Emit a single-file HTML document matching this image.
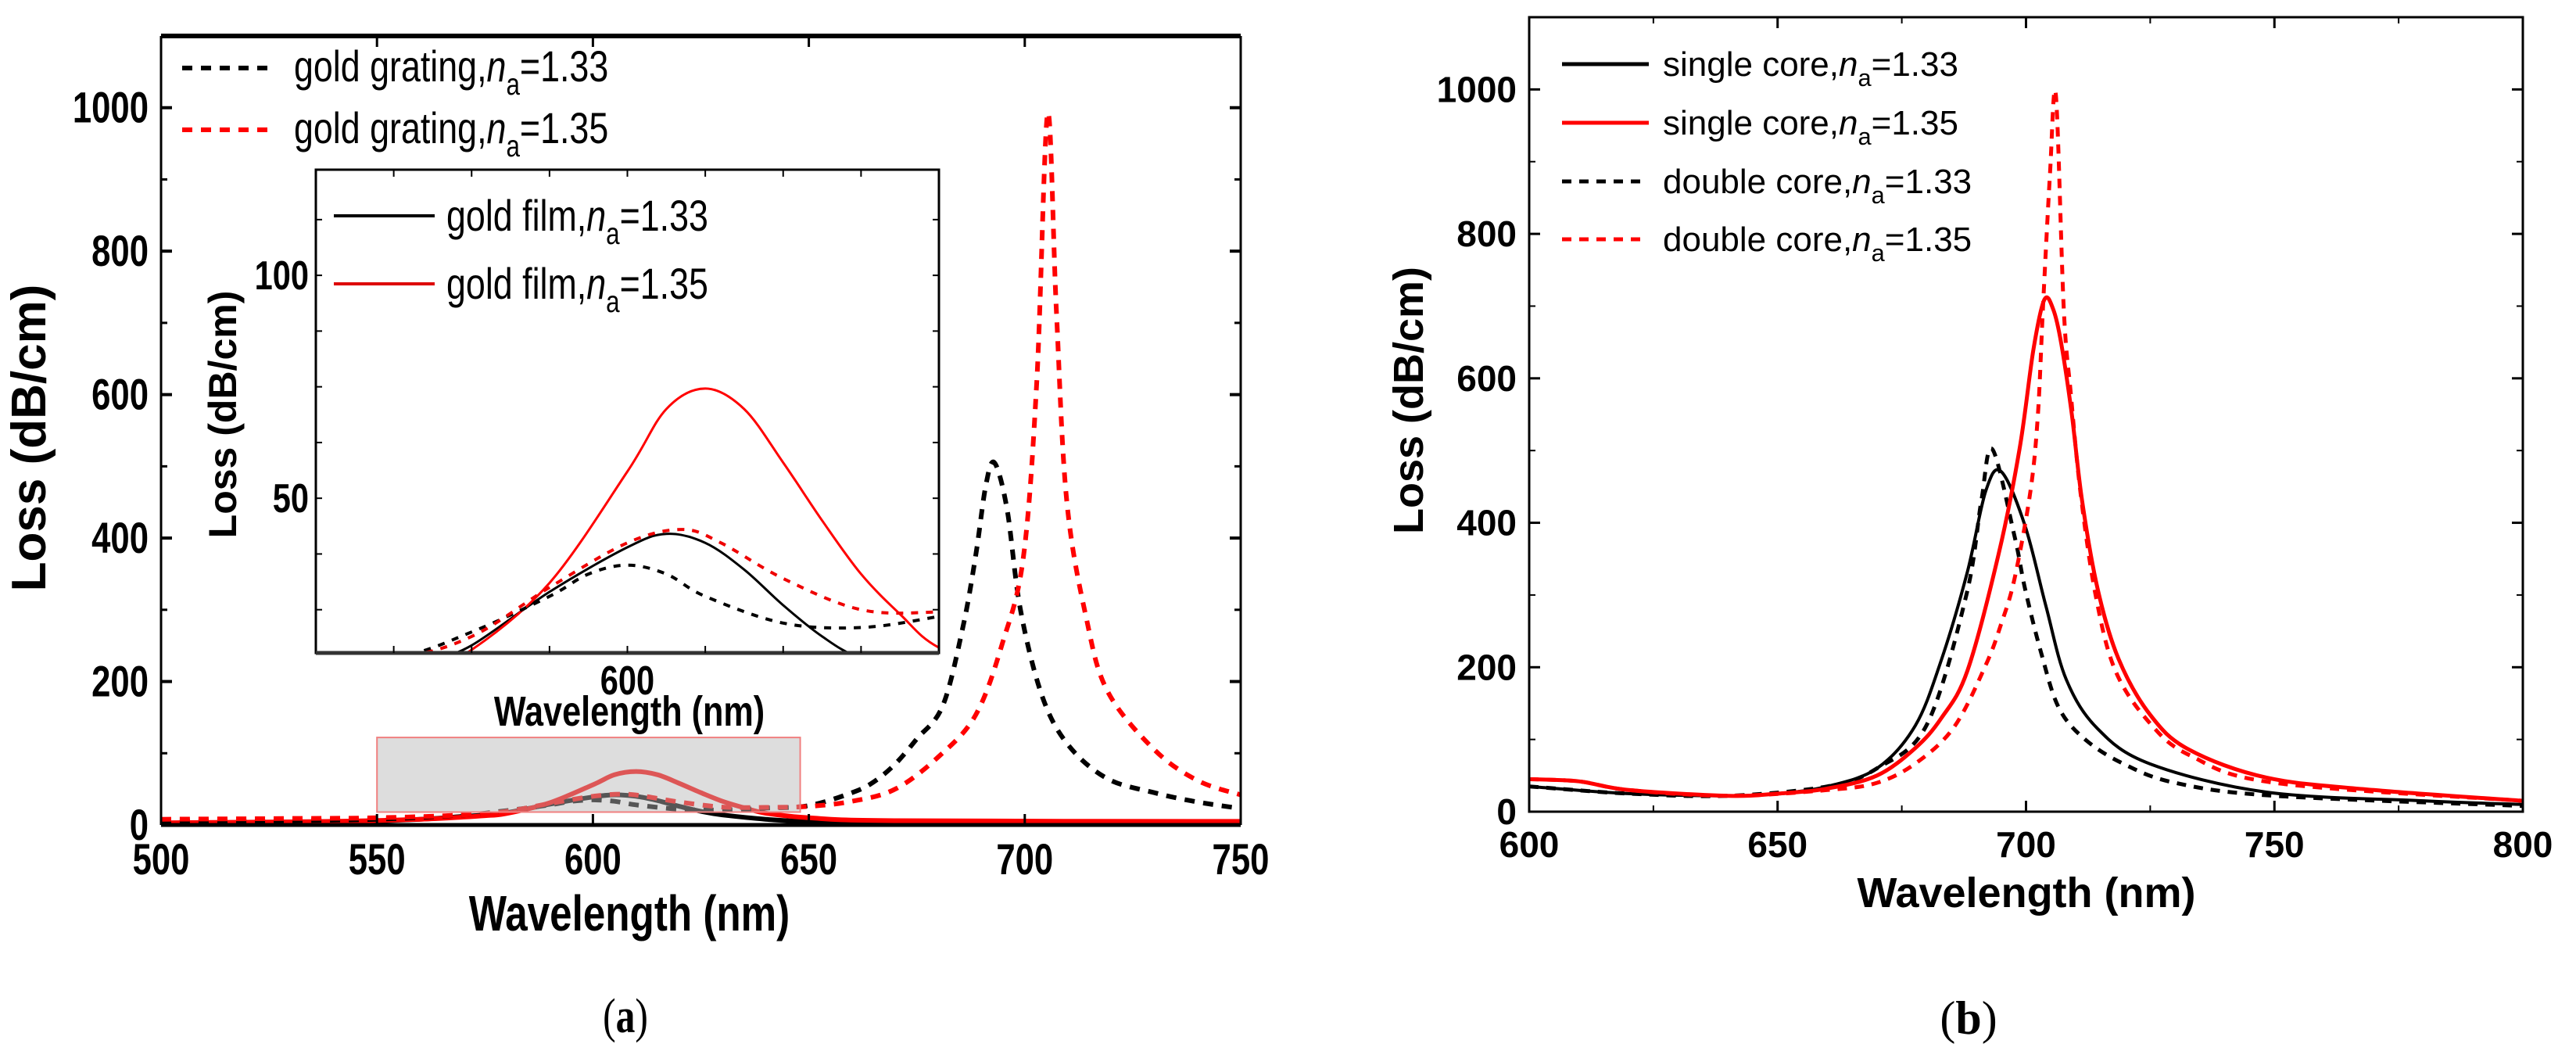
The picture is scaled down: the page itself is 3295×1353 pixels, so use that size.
<!DOCTYPE html>
<html><head><meta charset="utf-8"><style>
html,body{margin:0;padding:0;background:#fff;}
svg{display:block;font-family:"Liberation Sans",sans-serif;}
</style></head><body>
<svg id="fig" width="3295" height="1353" viewBox="0 0 3295 1353" xmlns="http://www.w3.org/2000/svg">
<defs>
<clipPath id="clipA"><rect x="206" y="46" width="1381" height="1009"/></clipPath>
<clipPath id="clipI"><rect x="404" y="217" width="797" height="618"/></clipPath>
<clipPath id="clipB"><rect x="1956" y="22" width="1271" height="1016"/></clipPath>
</defs>
<g id="chartA"></g>
<g id="chartB"></g>
</svg>
<script>
// ===== Chart (a) data =====
const aXTicks = [500, 550, 600, 650, 700, 750];
const aYTicks = [0, 200, 400, 600, 800, 1000];
const gratingX133 = [500,530,550,570,580,590,595,600,605,610,620,630,640,650,660,665,670,675,681,685.6,688.6,691,693,695.9,699,704,710,719,730,740,750];
const gratingY133 = [5,6,8,14,20,28,33,35,33,28,22,21,23.5,27,45,60,85,120,166,274,374,474,505,440,300,180,112,65,45,32,23];
const gratingX135 = [500,530,550,570,580,590,600,607,612,620,630,640,650,660,670,680,688.6,694.8,699.7,702.8,705.3,707.3,709.7,714.3,719.2,730,740,750];
const gratingY135 = [8,9,10,14,19,30,40,43,40,32,25,24.5,26,33,50,95,153,253,374,621,992,720,453,287,186,105,62,42];
const filmX133 = [500,540,560,570,575,580,590,600,605,610,615,620,625,630,640,650,680,750];
const filmY133 = [2,4,8,12,14,17,29,39,42,40,34,26,19,14,8,5,3,2];
const filmX135 = [500,540,560,570,575,580,590,600,605,610,615,620,625,630,635,640,650,670,750];
const filmY135 = [3,5,8,11,13,16,31,56,70,74.6,70,58,45,33,24,16.5,10,6,5];
// inset data
const iXTicks = [570,580,590,600,610,620,630];
const iXLabels = [600];
const iYTicks = [25,37.5,50,62.5,75,87.5,100,112.5];
const iYLabels = [50,100];

// ===== Chart (b) data =====
const bXTicks = [600,650,700,750,800];
const bYTicks = [0,200,400,600,800,1000];
const sX133 = [600,620,640,650,660,670,677.7,683,688.2,691.9,695,699.8,704,708.1,714.4,725,748.5,780,800];
const sY133 = [35,25,22,25,35,60,119,211,332,444,471,396,285,183,115,66,27,15,10];
const sX135 = [600,610,620,640,650,660,670,677.7,683,688.2,694.5,698.7,701.5,703.7,705.5,707.1,709.2,711.3,714.4,718.6,725,732.8,748.5,770,800];
const sY135 = [45,42,30,22,25,32,50,88,130,195,357,502,640,709,695,648,551,430,309,212,134,86,47,30,15];
const dX133 = [600,620,640,660,670,680,688,691,693.2,697.7,699.8,703,706.6,711.9,719.7,730,750,800];
const dY133 = [35,25,22,35,60,120,300,430,502,381,309,221,144,100,66,40,22,8];
const dX135 = [600,610,620,640,660,670,678,685.6,691.9,695,697.7,700.9,702.4,703.4,704.8,706,707.6,709,711,714,718,725,733,750,800];
const dY135 = [45,42,30,22,30,40,68,118,203,260,323,444,551,696,880,993,696,580,440,300,195,122,78,40,15];

const NS = 'http://www.w3.org/2000/svg';
function mk(tag, attrs, parent, text){
  const e = document.createElementNS(NS, tag);
  for (const k in attrs) e.setAttribute(k, attrs[k]);
  if (text !== undefined) e.textContent = text;
  parent.appendChild(e);
  return e;
}
function scale(d0,d1,r0,r1){ return v => r0 + (v-d0)/(d1-d0)*(r1-r0); }
function smoothPath(xs, ys, sx, sy){
  const p = xs.map((x,i)=>[sx(x), sy(ys[i])]);
  let d = 'M'+p[0][0].toFixed(1)+','+p[0][1].toFixed(1);
  for (let i=0;i<p.length-1;i++){
    const p0=p[i-1]||p[i], p1=p[i], p2=p[i+1], p3=p[i+2]||p2;
    const c1=[p1[0]+(p2[0]-p0[0])/6, p1[1]+(p2[1]-p0[1])/6];
    const c2=[p2[0]-(p3[0]-p1[0])/6, p2[1]-(p3[1]-p1[1])/6];
    d+=' C'+c1[0].toFixed(1)+','+c1[1].toFixed(1)+' '+c2[0].toFixed(1)+','+c2[1].toFixed(1)+' '+p2[0].toFixed(1)+','+p2[1].toFixed(1);
  }
  return d;
}
function legendText(parent, x, y, base, val, size, extra){
  const t = mk('text', Object.assign({x:x, y:y, 'font-size':size, fill:'#000'}, extra||{}), parent);
  mk('tspan', {}, t, base);
  mk('tspan', {'font-style':'italic'}, t, 'n');
  mk('tspan', {dy: size*0.3, 'font-size': size*0.7}, t, 'a');
  mk('tspan', {dy: -size*0.3}, t, '='+val);
  return t;
}

// ===== Draw chart (a) =====
(function(){
  const g = document.getElementById('chartA');
  const L=206,R=1587,T=46,B=1055;
  const sx = scale(500,750,L,R), sy = scale(0,1100,B,T);
  const cg = mk('g', {'clip-path':'url(#clipA)'}, g);
  let e;
  e = mk('path', {d:smoothPath(filmX133, filmY133, sx, sy), fill:'none', stroke:'#000', 'stroke-width':6}, cg);
   
  e = mk('path', {d:smoothPath(filmX135, filmY135, sx, sy), fill:'none', stroke:'#f00', 'stroke-width':6}, cg);
   
  e = mk('path', {d:smoothPath(gratingX133, gratingY133, sx, sy), fill:'none', stroke:'#000', 'stroke-width':6, 'stroke-dasharray':'13 11'}, cg);
   
  e = mk('path', {d:smoothPath(gratingX135, gratingY135, sx, sy), fill:'none', stroke:'#f00', 'stroke-width':6, 'stroke-dasharray':'13 11'}, cg);
   
  e = mk('rect', {x:sx(550), y:sy(122), width:sx(648)-sx(550), height:sy(18)-sy(122), fill:'rgb(182,182,182)', 'fill-opacity':0.47, stroke:'#f08080', 'stroke-width':2}, g);
   
  mk('line',{x1:L,y1:T,x2:R,y2:T,stroke:'#000','stroke-width':6},g);
  mk('line',{x1:L,y1:B,x2:R,y2:B,stroke:'#000','stroke-width':5},g);
  mk('line',{x1:L,y1:T,x2:L,y2:B,stroke:'#000','stroke-width':3},g);
  mk('line',{x1:R,y1:T,x2:R,y2:B,stroke:'#000','stroke-width':3},g);
  aXTicks.forEach(v=>{
    mk('line',{x1:sx(v),y1:B,x2:sx(v),y2:B-14,stroke:'#000','stroke-width':3},g);
    mk('line',{x1:sx(v),y1:T,x2:sx(v),y2:T+14,stroke:'#000','stroke-width':3},g);
    e = mk('text',{x:sx(v),y:1118,'font-size':56,'font-weight':'bold','text-anchor':'middle',transform:'translate('+sx(v)+',0) scale(0.78,1) translate('+(-sx(v))+',0)'},g,String(v));
     
  });
  aYTicks.forEach(v=>{
    mk('line',{x1:L,y1:sy(v),x2:L+14,y2:sy(v),stroke:'#000','stroke-width':4},g);
    mk('line',{x1:R,y1:sy(v),x2:R-14,y2:sy(v),stroke:'#000','stroke-width':4},g);
    mk('line',{x1:L,y1:sy(v+100),x2:L+8,y2:sy(v+100),stroke:'#000','stroke-width':3},g);
    mk('line',{x1:R,y1:sy(v+100),x2:R-8,y2:sy(v+100),stroke:'#000','stroke-width':3},g);
    e = mk('text',{x:190,y:sy(v)+19,'font-size':56,'font-weight':'bold','text-anchor':'end',transform:'translate(190,0) scale(0.78,1) translate(-190,0)'},g,String(v));
     
  });
  e = mk('text',{x:0,y:0,'font-size':62,'font-weight':'bold','text-anchor':'middle',transform:'translate(58,560) rotate(-90)'},g,'Loss (dB/cm)');
   
  e = mk('text',{x:0,y:0,'font-size':64,'font-weight':'bold','text-anchor':'middle',transform:'translate(805,1190) scale(0.8,1)'},g,'Wavelength (nm)');
   
  e = mk('text',{x:0,y:0,'font-size':62,'font-family':'Liberation Serif, serif','text-anchor':'middle',transform:'translate(800,1320) scale(0.8,1)'},g);
  mk('tspan',{},e,'('); mk('tspan',{'font-weight':'bold'},e,'a'); mk('tspan',{},e,')');
   
  mk('line',{x1:233,y1:87,x2:344,y2:87,stroke:'#000','stroke-width':6,'stroke-dasharray':'13 11'},g);
  mk('line',{x1:233,y1:166,x2:344,y2:166,stroke:'#f00','stroke-width':6,'stroke-dasharray':'13 11'},g);
  e = legendText(g,376,104,'gold grating,','1.33',56,{transform:'translate(376,0) scale(0.8,1) translate(-376,0)'});
   
  e = legendText(g,376,183,'gold grating,','1.35',56,{transform:'translate(376,0) scale(0.8,1) translate(-376,0)'});
   

  // ===== inset =====
  const iL=404,iR=1201,iT=217,iB=835;
  const ix = scale(560,640,iL,iR), iy = scale(15.3,123.7,iB,iT);
  const ig = mk('g',{},g);
   
  mk('rect',{x:iL,y:iT,width:iR-iL,height:iB-iT,fill:'#fff'},ig);
  const icg = mk('g',{'clip-path':'url(#clipI)'},ig);
  e = mk('path',{d:smoothPath(filmX133,filmY133,ix,iy),fill:'none',stroke:'#000','stroke-width':3},icg);
   
  e = mk('path',{d:smoothPath(filmX135,filmY135,ix,iy),fill:'none',stroke:'#f00','stroke-width':3},icg);
   
  e = mk('path',{d:smoothPath(gratingX133,gratingY133,ix,iy),fill:'none',stroke:'#000','stroke-width':4,'stroke-dasharray':'9 10'},icg);
   
  e = mk('path',{d:smoothPath(gratingX135,gratingY135,ix,iy),fill:'none',stroke:'#e00','stroke-width':4,'stroke-dasharray':'9 10'},icg);
   
  mk('rect',{x:iL,y:iT,width:iR-iL,height:iB-iT,fill:'none',stroke:'#000','stroke-width':3},ig);
  mk('line',{x1:iL,y1:iB,x2:iR,y2:iB,stroke:'#333','stroke-width':5},ig);
  iXTicks.forEach(v=>{
    mk('line',{x1:ix(v),y1:iB,x2:ix(v),y2:iB-9,stroke:'#000','stroke-width':2},ig);
    mk('line',{x1:ix(v),y1:iT,x2:ix(v),y2:iT+9,stroke:'#000','stroke-width':2},ig);
  });
  iXLabels.forEach(v=>{
    e = mk('text',{x:ix(v),y:888,'font-size':52,'font-weight':'bold','text-anchor':'middle',transform:'translate('+ix(v)+',0) scale(0.8,1) translate('+(-ix(v))+',0)'},ig,String(v));
     
  });
  iYTicks.forEach(v=>{
    mk('line',{x1:iL,y1:iy(v),x2:iL+8,y2:iy(v),stroke:'#000','stroke-width':2},ig);
    mk('line',{x1:iR,y1:iy(v),x2:iR-8,y2:iy(v),stroke:'#000','stroke-width':2},ig);
  });
  iYLabels.forEach(v=>{
    e = mk('text',{x:395,y:iy(v)+18,'font-size':52,'font-weight':'bold','text-anchor':'end',transform:'translate(395,0) scale(0.8,1) translate(-395,0)'},ig,String(v));
     
  });
  e = mk('text',{x:0,y:0,'font-size':50,'font-weight':'bold','text-anchor':'middle',transform:'translate(302,530) rotate(-90)'},ig,'Loss (dB/cm)');
   
  e = mk('text',{x:0,y:0,'font-size':54,'font-weight':'bold','text-anchor':'middle',transform:'translate(805,928) scale(0.8,1)'},ig,'Wavelength (nm)');
   
  mk('line',{x1:427,y1:276,x2:556,y2:276,stroke:'#000','stroke-width':4},ig);
  mk('line',{x1:427,y1:363,x2:556,y2:363,stroke:'#d00','stroke-width':4},ig);
  e = legendText(ig,571,295,'gold film,','1.33',56,{transform:'translate(571,0) scale(0.8,1) translate(-571,0)'});
   
  e = legendText(ig,571,382,'gold film,','1.35',56,{transform:'translate(571,0) scale(0.8,1) translate(-571,0)'});
   
})();

// ===== Draw chart (b) =====
(function(){
  const g = document.getElementById('chartB');
  const L=1956,R=3227,T=22,B=1038;
  const sx = scale(600,800,L,R), sy = scale(0,1100,B,T);
  const cg = mk('g',{'clip-path':'url(#clipB)'},g);
  let e;
  e = mk('path',{d:smoothPath(dX133,dY133,sx,sy),fill:'none',stroke:'#000','stroke-width':5,'stroke-dasharray':'12 10'},cg);
   
  e = mk('path',{d:smoothPath(sX133,sY133,sx,sy),fill:'none',stroke:'#000','stroke-width':4},cg);
   
  e = mk('path',{d:smoothPath(sX135,sY135,sx,sy),fill:'none',stroke:'#f00','stroke-width':5},cg);
   
  e = mk('path',{d:smoothPath(dX135,dY135,sx,sy),fill:'none',stroke:'#f00','stroke-width':5,'stroke-dasharray':'12 10'},cg);
   
  mk('rect',{x:L,y:T,width:R-L,height:B-T,fill:'none',stroke:'#000','stroke-width':3},g);
  bXTicks.forEach((v,i)=>{
    mk('line',{x1:sx(v),y1:B,x2:sx(v),y2:B-14,stroke:'#000','stroke-width':3},g);
    mk('line',{x1:sx(v),y1:T,x2:sx(v),y2:T+14,stroke:'#000','stroke-width':3},g);
    if (i<bXTicks.length-1){
      const m=(v+bXTicks[i+1])/2;
      mk('line',{x1:sx(m),y1:B,x2:sx(m),y2:B-8,stroke:'#000','stroke-width':2},g);
      mk('line',{x1:sx(m),y1:T,x2:sx(m),y2:T+8,stroke:'#000','stroke-width':2},g);
    }
    e = mk('text',{x:sx(v),y:1096,'font-size':46,'font-weight':'bold','text-anchor':'middle'},g,String(v));
     
  });
  bYTicks.forEach(v=>{
    mk('line',{x1:L,y1:sy(v),x2:L+14,y2:sy(v),stroke:'#000','stroke-width':3},g);
    mk('line',{x1:R,y1:sy(v),x2:R-14,y2:sy(v),stroke:'#000','stroke-width':3},g);
    mk('line',{x1:L,y1:sy(v+100),x2:L+8,y2:sy(v+100),stroke:'#000','stroke-width':2},g);
    mk('line',{x1:R,y1:sy(v+100),x2:R-8,y2:sy(v+100),stroke:'#000','stroke-width':2},g);
    e = mk('text',{x:1940,y:sy(v)+16,'font-size':46,'font-weight':'bold','text-anchor':'end'},g,String(v));
     
  });
  e = mk('text',{x:0,y:0,'font-size':54,'font-weight':'bold','text-anchor':'middle',transform:'translate(1820,512) rotate(-90)'},g,'Loss (dB/cm)');
   
  e = mk('text',{x:2592,y:1160,'font-size':54,'font-weight':'bold','text-anchor':'middle'},g,'Wavelength (nm)');
   
  e = mk('text',{x:2518,y:1322,'font-size':60,'font-family':'Liberation Serif, serif','text-anchor':'middle'},g);
  mk('tspan',{},e,'('); mk('tspan',{'font-weight':'bold'},e,'b'); mk('tspan',{},e,')');
   
  const ly=[82,157,232,306];
  mk('line',{x1:1998,y1:ly[0],x2:2109,y2:ly[0],stroke:'#000','stroke-width':5},g);
  mk('line',{x1:1998,y1:ly[1],x2:2109,y2:ly[1],stroke:'#f00','stroke-width':5},g);
  mk('line',{x1:1998,y1:ly[2],x2:2100,y2:ly[2],stroke:'#000','stroke-width':5,'stroke-dasharray':'12 10'},g);
  mk('line',{x1:1998,y1:ly[3],x2:2100,y2:ly[3],stroke:'#f00','stroke-width':5,'stroke-dasharray':'12 10'},g);
  const labs=[['single core,','1.33'],['single core,','1.35'],['double core,','1.33'],['double core,','1.35']];
  labs.forEach((l,i)=>{
    e = legendText(g,2127,ly[i]+15,l[0],l[1],44);
     
  });
})();
</script>
</body></html>
